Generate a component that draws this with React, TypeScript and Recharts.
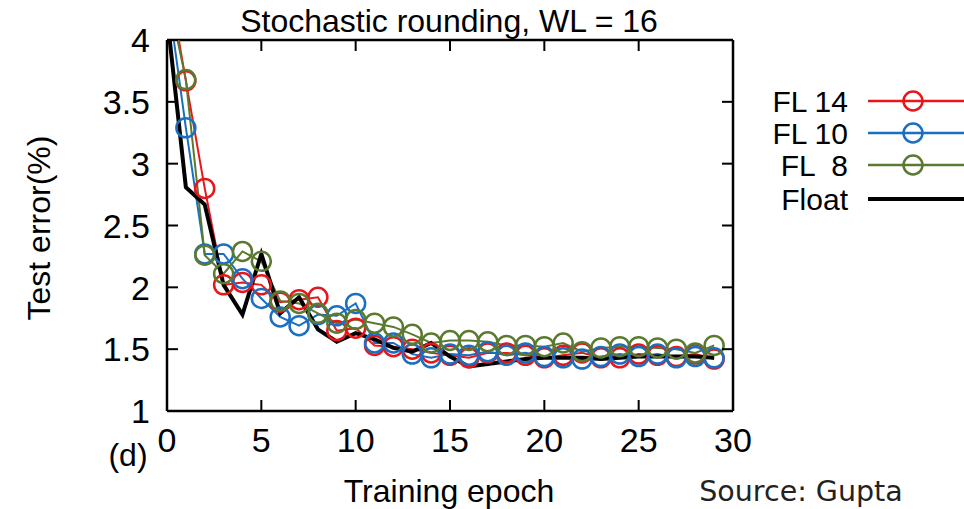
import React from 'react';
import { LineChart, Line, XAxis, YAxis, Legend, Customized, ReferenceLine } from 'recharts';

const epochs = [0, 1, 2, 3, 4, 5, 6, 7, 8, 9, 10, 11, 12, 13, 14, 15, 16, 17, 18, 19, 20, 21, 22, 23, 24, 25, 26, 27, 28, 29];
const fl14 = [4.55, 3.67, 2.8, 2.02, 2.04, 2.02, 1.88, 1.9, 1.92, 1.65, 1.67, 1.53, 1.52, 1.5, 1.47, 1.45, 1.43, 1.47, 1.47, 1.45, 1.43, 1.45, 1.47, 1.43, 1.43, 1.46, 1.45, 1.44, 1.46, 1.42];
const fl10 = [4.4, 3.29, 2.27, 2.27, 2.07, 1.91, 1.76, 1.69, 1.78, 1.77, 1.87, 1.55, 1.55, 1.46, 1.43, 1.46, 1.45, 1.48, 1.45, 1.47, 1.44, 1.43, 1.42, 1.44, 1.46, 1.44, 1.46, 1.43, 1.44, 1.43];
const fl8 = [4.4, 3.68, 2.26, 2.11, 2.29, 2.21, 1.89, 1.87, 1.79, 1.71, 1.74, 1.71, 1.68, 1.62, 1.55, 1.57, 1.57, 1.56, 1.53, 1.53, 1.52, 1.55, 1.48, 1.51, 1.52, 1.52, 1.51, 1.5, 1.47, 1.53];
const floatErr = [4.2, 2.81, 2.67, 2.02, 1.78, 2.27, 1.79, 1.92, 1.66, 1.56, 1.63, 1.58, 1.51, 1.48, 1.55, 1.44, 1.36, 1.38, 1.4, 1.42, 1.43, 1.43, 1.43, 1.42, 1.43, 1.44, 1.44, 1.44, 1.44, 1.43];

const xTicks = [0, 5, 10, 15, 20, 25, 30];
const yTicks = [1, 1.5, 2, 2.5, 3, 3.5, 4];
const seriesNames = ['FL 14', 'FL 10', 'FL  8', 'Float'];
const seriesColors = ['#e8161b', '#1a6fc0', '#5b7a30', '#000000'];

const titleText = 'Stochastic rounding, WL = 16';
const xLabelText = 'Training epoch';
const yLabelText = 'Test error(%)';
const panelText = '(d)';
const sourceText = 'Source: Gupta';

const data = epochs.map((e, i) => ({
  epoch: e,
  fl14: fl14[i],
  fl10: fl10[i],
  fl8: fl8[i],
  float: floatErr[i],
}));

const FONT = "'Liberation Sans', Arial, Helvetica, sans-serif";
const CHART_W = 964;
const CHART_H = 509;
const MARGIN = { top: 40, right: 231, left: 107, bottom: 38 };
const PLOT_RIGHT = CHART_W - MARGIN.right;
const PLOT_TOP = MARGIN.top;
const TICK_LEN = 11;
const TICK_MARGIN = 17;

const LeftTick = (props: any) => {
  const { x, y, payload } = props;
  const edge = x + TICK_MARGIN;
  return (
    <g>
      <line x1={edge} x2={edge + TICK_LEN} y1={y} y2={y} stroke="#000" strokeWidth={2} />
      <line x1={PLOT_RIGHT - TICK_LEN} x2={PLOT_RIGHT} y1={y} y2={y} stroke="#000" strokeWidth={2} />
      <text x={x} y={y} dy="0.36em" textAnchor="end" fontSize={34} fontFamily={FONT} fill="#000">
        {payload.value}
      </text>
    </g>
  );
};

const BottomTick = (props: any) => {
  const { x, y, payload } = props;
  const edge = y - TICK_MARGIN;
  return (
    <g>
      <line x1={x} x2={x} y1={edge} y2={edge - TICK_LEN} stroke="#000" strokeWidth={2} />
      <line x1={x} x2={x} y1={PLOT_TOP} y2={PLOT_TOP + TICK_LEN} stroke="#000" strokeWidth={2} />
      <text x={x} y={y} dy="0.71em" textAnchor="middle" fontSize={34} fontFamily={FONT} fill="#000">
        {payload.value}
      </text>
    </g>
  );
};

const LegendContent = () => {
  const rowY = [21, 53, 85, 119];
  return (
    <svg width={224} height={140}>
      {seriesNames.map((name, i) => (
        <g key={name}>
          <text
            x={108}
            y={rowY[i]}
            dy="0.36em"
            textAnchor="end"
            fontSize={30}
            fontFamily={FONT}
            fill="#000"
            style={{ whiteSpace: 'pre' }}
          >
            {name}
          </text>
          <line
            x1={128}
            x2={224}
            y1={rowY[i]}
            y2={rowY[i]}
            stroke={seriesColors[i]}
            strokeWidth={i === 3 ? 4 : 2.5}
          />
          {i < 3 && (
            <circle cx={173} cy={rowY[i]} r={9.5} fill="none" stroke={seriesColors[i]} strokeWidth={2.5} />
          )}
        </g>
      ))}
    </svg>
  );
};

const Annotations = () => (
  <g>
    <text x={449} y={32} textAnchor="middle" fontSize={32} fontFamily={FONT} fill="#000">
      {titleText}
    </text>
    <text x={449} y={502} textAnchor="middle" fontSize={32} fontFamily={FONT} fill="#000">
      {xLabelText}
    </text>
    <text
      x={0}
      y={0}
      transform="translate(50,228) rotate(-90)"
      textAnchor="middle"
      fontSize={32}
      fontFamily={FONT}
      fill="#000"
    >
      {yLabelText}
    </text>
    <text x={128} y={466} textAnchor="middle" fontSize={32} fontFamily={FONT} fill="#000">
      {panelText}
    </text>
    <text x={801} y={501} textAnchor="middle" fontSize={28.5} fontFamily="'DejaVu Sans', sans-serif" fill="#222">
      {sourceText}
    </text>
  </g>
);

export default function App() {
  return (
    <div style={{ position: 'absolute', left: 0, top: 0, width: CHART_W, height: CHART_H, background: '#fff' }}>
      <LineChart width={CHART_W} height={CHART_H} data={data} margin={MARGIN}>
        <XAxis
          dataKey="epoch"
          type="number"
          domain={[0, 30]}
          ticks={xTicks}
          height={60}
          tickSize={0}
          tickMargin={TICK_MARGIN}
          tickLine={false}
          axisLine={{ stroke: '#000', strokeWidth: 2.5 }}
          tick={<BottomTick />}
          interval={0}
        />
        <YAxis
          type="number"
          domain={[1, 4]}
          ticks={yTicks}
          allowDataOverflow
          width={60}
          tickSize={0}
          tickMargin={TICK_MARGIN}
          tickLine={false}
          axisLine={{ stroke: '#000', strokeWidth: 2.5 }}
          tick={<LeftTick />}
          interval={0}
        />
        <ReferenceLine y={4} stroke="#000" strokeWidth={2.5} />
        <ReferenceLine x={30} stroke="#000" strokeWidth={2.5} />
        <Line
          dataKey="fl14"
          name={seriesNames[0]}
          stroke={seriesColors[0]}
          strokeWidth={2}
          dot={{ r: 9.5, strokeWidth: 2.5, fill: 'none', stroke: seriesColors[0] }}
          isAnimationActive={false}
        />
        <Line
          dataKey="fl10"
          name={seriesNames[1]}
          stroke={seriesColors[1]}
          strokeWidth={2}
          dot={{ r: 9.5, strokeWidth: 2.5, fill: 'none', stroke: seriesColors[1] }}
          isAnimationActive={false}
        />
        <Line
          dataKey="fl8"
          name={seriesNames[2]}
          stroke={seriesColors[2]}
          strokeWidth={2}
          dot={{ r: 9.5, strokeWidth: 2.5, fill: 'none', stroke: seriesColors[2] }}
          isAnimationActive={false}
        />
        <Line
          dataKey="float"
          name={seriesNames[3]}
          stroke={seriesColors[3]}
          strokeWidth={4}
          dot={false}
          isAnimationActive={false}
        />
        <Legend
          layout="horizontal"
          align="center"
          verticalAlign="middle"
          content={<LegendContent />}
          wrapperStyle={{ left: 740, top: 80, width: 224, height: 140 }}
        />
        <Customized component={<Annotations />} />
      </LineChart>
    </div>
  );
}
